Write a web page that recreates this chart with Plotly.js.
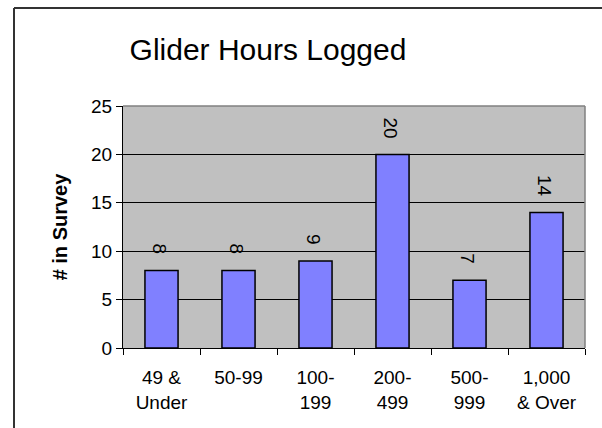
<!DOCTYPE html>
<html>
<head>
<meta charset="utf-8">
<script src="https://cdn.plot.ly/plotly-3.0.1.min.js"></script>
<style>
html,body{margin:0;padding:0;background:#fff;}
#chart{width:602px;height:428px;}
</style>
</head>
<body>
<div id="chart"></div>
<script>
const categories = ["49 &<br>Under", "50-99", "100-<br>199", "200-<br>499", "500-<br>999", "1,000<br>& Over"];
const counts = [8, 8, 9, 20, 7, 14];
const yTicks = [0, 5, 10, 15, 20, 25];

const FONT = 'Liberation Sans, Arial, sans-serif';

const trace = {
  type: 'bar',
  x: categories,
  y: counts,
  marker: {color: '#8080FF', line: {color: '#000', width: 1.5}},
  width: 0.43,
  hoverinfo: 'none'
};

const labelAnnotations = categories.map((c, i) => ({
  x: c, y: counts[i], xref: 'x', yref: 'y',
  text: String(counts[i]),
  textangle: 90,
  showarrow: false,
  xanchor: 'center', yanchor: 'bottom',
  yshift: 14, xshift: -2,
  font: {family: FONT, size: 19, color: '#000'}
}));

const layout = {
  width: 602, height: 428,
  margin: {l: 123, r: 17, t: 106, b: 80},
  paper_bgcolor: '#fff',
  plot_bgcolor: '#C0C0C0',
  font: {family: FONT, color: '#000', size: 19},
  showlegend: false,
  title: {
    text: 'Glider Hours Logged',
    font: {size: 30, color: '#000', family: FONT},
    x: 268/602, xanchor: 'center',
    y: 1 - 49/428, yanchor: 'middle'
  },
  xaxis: {
    type: 'category',
    tickson: 'boundaries',
    ticks: 'outside', ticklen: 6, tickcolor: '#000', tickwidth: 1,
    showline: true, linecolor: '#000', linewidth: 1,
    showgrid: false,
    tickfont: {size: 19},
    ticklabelstandoff: 12,
    fixedrange: true
  },
  yaxis: {
    range: [0, 25],
    tickvals: yTicks,
    ticktext: yTicks.map(String),
    ticks: 'outside', ticklen: 6, tickcolor: '#000', tickwidth: 1,
    showline: true, linecolor: '#000', linewidth: 1,
    showgrid: true, gridcolor: '#000', gridwidth: 1,
    zeroline: false,
    tickfont: {size: 19},
    title: {text: '<b># in Survey</b>', font: {size: 20}, standoff: 18},
    fixedrange: true
  },
  annotations: labelAnnotations,
  shapes: [
    {type: 'line', xref: 'paper', yref: 'paper', x0: 0, x1: 1, y0: 1, y1: 1, line: {color: '#808080', width: 1.5}},
    {type: 'line', xref: 'paper', yref: 'paper', x0: 1, x1: 1, y0: 0, y1: 1, line: {color: '#808080', width: 1.5}},
    {type: 'line', xref: 'paper', yref: 'paper', x0: (14-123)/462, x1: 1.05, y0: (348-8)/242, y1: (348-8)/242, line: {color: '#333', width: 2}},
    {type: 'line', xref: 'paper', yref: 'paper', x0: (14-123)/462, x1: (14-123)/462, y0: (348-8)/242, y1: -0.5, line: {color: '#333', width: 2}}
  ]
};

Plotly.newPlot('chart', [trace], layout, {displayModeBar: false, staticPlot: true});
</script>
</body>
</html>
